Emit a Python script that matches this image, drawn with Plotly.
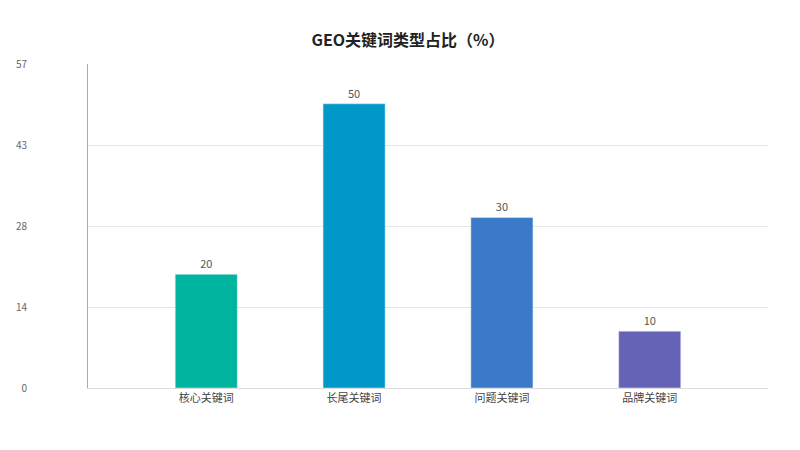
import plotly.graph_objects as go

categories = ["核心关键词", "长尾关键词", "问题关键词", "品牌关键词"]
values = [20, 50, 30, 10]
bar_colors = ["#00b59f", "#0097c9", "#3b79c9", "#6563b5"]
tick_vals = [0, 14.25, 28.5, 42.75, 57]
tick_text = ["0", "14", "28", "43", "57"]

fig = go.Figure(
    go.Bar(
        x=categories,
        y=values,
        width=0.42,
        marker=dict(color=bar_colors),
        text=values,
        textposition="outside",
        textfont=dict(size=11, color="#555"),
        cliponaxis=False,
    )
)

fig.update_layout(
    width=800,
    height=450,
    paper_bgcolor="white",
    plot_bgcolor="white",
    font=dict(family="Noto Sans CJK SC", color="#555"),
    title=dict(
        text="<b>GEO关键词类型占比（%）</b>",
        x=0.5,
        y=0.94,
        xanchor="center",
        font=dict(size=16, color="#222"),
    ),
    margin=dict(l=80, r=40, t=56, b=70, autoexpand=False),
    showlegend=False,
    xaxis=dict(
        range=[-0.8, 3.8],
        showline=True,
        linecolor="#ddd",
        tickfont=dict(size=11, color="#444"),
        ticks="",
        automargin=False,
    ),
    yaxis=dict(
        range=[0, 57],
        tickvals=tick_vals,
        ticktext=tick_text,
        showgrid=True,
        gridcolor="#e6e6e6",
        showline=True,
        linecolor="#aaa",
        zeroline=False,
        tickfont=dict(size=10, color="#666"),
        ticklabelstandoff=58,
        automargin=False,
    ),
)

fig.write_html("out.html")
